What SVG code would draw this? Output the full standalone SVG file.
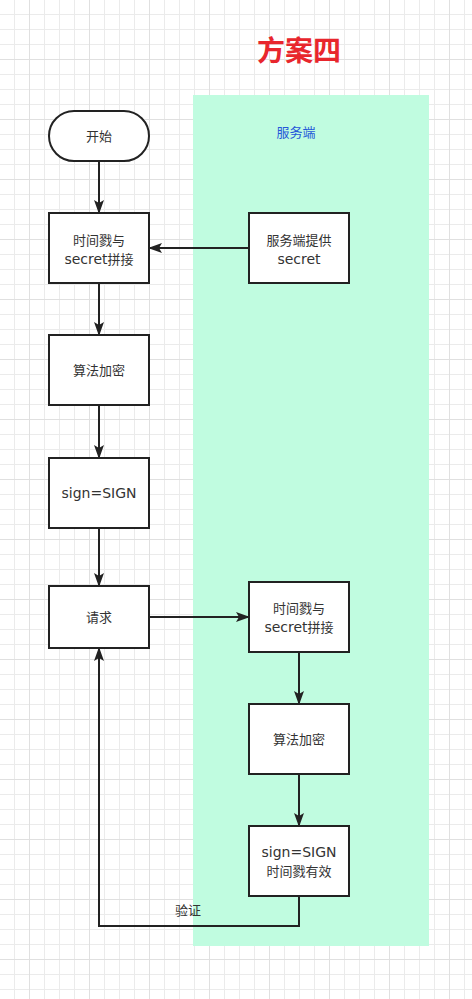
<svg xmlns="http://www.w3.org/2000/svg" width="472" height="999" viewBox="0 0 472 999">
  <defs>
    <pattern id="minor" width="15" height="15" patternUnits="userSpaceOnUse">
      <path d="M14.5 0 V15 M0 14.5 H15" fill="none" stroke="#ebebeb" stroke-width="1"/>
    </pattern>
    <pattern id="major" x="30" y="0" width="60" height="60" patternUnits="userSpaceOnUse">
      <path d="M-0.5 0 V60 M0 -0.5 H60 M59.5 0 V60 M0 59.5 H60" fill="none" stroke="#e0e0e0" stroke-width="1"/>
    </pattern>
    <marker id="arrow" viewBox="0 0 14 10" refX="13" refY="5" markerWidth="14" markerHeight="10" markerUnits="userSpaceOnUse" orient="auto">
      <path d="M0,0 L14,5 L0,10 L3,5 Z" fill="#222"/>
    </marker>
    <style>
      .box { fill: #ffffff; stroke: #222222; stroke-width: 2; }
      .t { font-family: "Noto Sans CJK SC", sans-serif; font-size: 13px; fill: #333333; text-anchor: middle; }
      .l { font-family: "DejaVu Sans", "Noto Sans CJK SC", sans-serif; font-size: 14px; }
      .edge { fill: none; stroke: #222222; stroke-width: 2; }
    </style>
  </defs>
  <rect x="0" y="0" width="472" height="999" fill="#ffffff"/>
  <rect x="0" y="0" width="472" height="999" fill="url(#minor)"/>
  <rect x="0" y="0" width="472" height="999" fill="url(#major)"/>

  <g id="title">
    <text x="299" y="61" font-family="'Noto Sans CJK SC', sans-serif" font-size="28" font-weight="bold" fill="#e8262d" text-anchor="middle">方案四</text>
  </g>

  <g id="server-lane">
    <rect x="193" y="95" width="236" height="851" fill="#c0fce0"/>
    <text x="296" y="137" font-family="'Noto Sans CJK SC', sans-serif" font-size="13" fill="#2457d9" text-anchor="middle">服务端</text>
  </g>

  <g id="connectors">
    <path class="edge" d="M99 161 V213" marker-end="url(#arrow)"/>
    <path class="edge" d="M249 248 H149" marker-end="url(#arrow)"/>
    <path class="edge" d="M99 283 V335" marker-end="url(#arrow)"/>
    <path class="edge" d="M99 405 V458" marker-end="url(#arrow)"/>
    <path class="edge" d="M99 528 V586" marker-end="url(#arrow)"/>
    <path class="edge" d="M149 617 H249" marker-end="url(#arrow)"/>
    <path class="edge" d="M299 652 V704" marker-end="url(#arrow)"/>
    <path class="edge" d="M299 774 V826" marker-end="url(#arrow)"/>
    <path class="edge" d="M299 896 V926 H99 V648" marker-end="url(#arrow)"/>
    <text class="t" x="188" y="915">验证</text>
  </g>

  <g id="start">
    <rect class="box" x="49" y="111" width="100" height="50" rx="25" ry="25"/>
    <text class="t" x="99" y="141">开始</text>
  </g>
  <g id="concat-client">
    <rect class="box" x="49" y="213" width="100" height="70"/>
    <text class="t" x="99" y="245">时间戮与</text>
    <text class="t" x="99" y="264"><tspan class="l">secret</tspan>拼接</text>
  </g>
  <g id="server-secret">
    <rect class="box" x="249" y="213" width="100" height="70"/>
    <text class="t" x="299" y="245">服务端提供</text>
    <text class="t" x="299" y="264"><tspan class="l">secret</tspan></text>
  </g>
  <g id="encrypt-client">
    <rect class="box" x="49" y="335" width="100" height="70"/>
    <text class="t" x="99" y="375">算法加密</text>
  </g>
  <g id="sign-client">
    <rect class="box" x="49" y="458" width="100" height="70"/>
    <text class="t" x="99" y="498"><tspan class="l">sign=SIGN</tspan></text>
  </g>
  <g id="request">
    <rect class="box" x="49" y="586" width="100" height="62"/>
    <text class="t" x="99" y="622">请求</text>
  </g>
  <g id="concat-server">
    <rect class="box" x="249" y="582" width="100" height="70"/>
    <text class="t" x="299" y="613">时间戮与</text>
    <text class="t" x="299" y="632"><tspan class="l">secret</tspan>拼接</text>
  </g>
  <g id="encrypt-server">
    <rect class="box" x="249" y="704" width="100" height="70"/>
    <text class="t" x="299" y="744">算法加密</text>
  </g>
  <g id="verify-server">
    <rect class="box" x="249" y="826" width="100" height="70"/>
    <text class="t" x="299" y="857"><tspan class="l">sign=SIGN</tspan></text>
    <text class="t" x="299" y="876">时间戮有效</text>
  </g>
</svg>
